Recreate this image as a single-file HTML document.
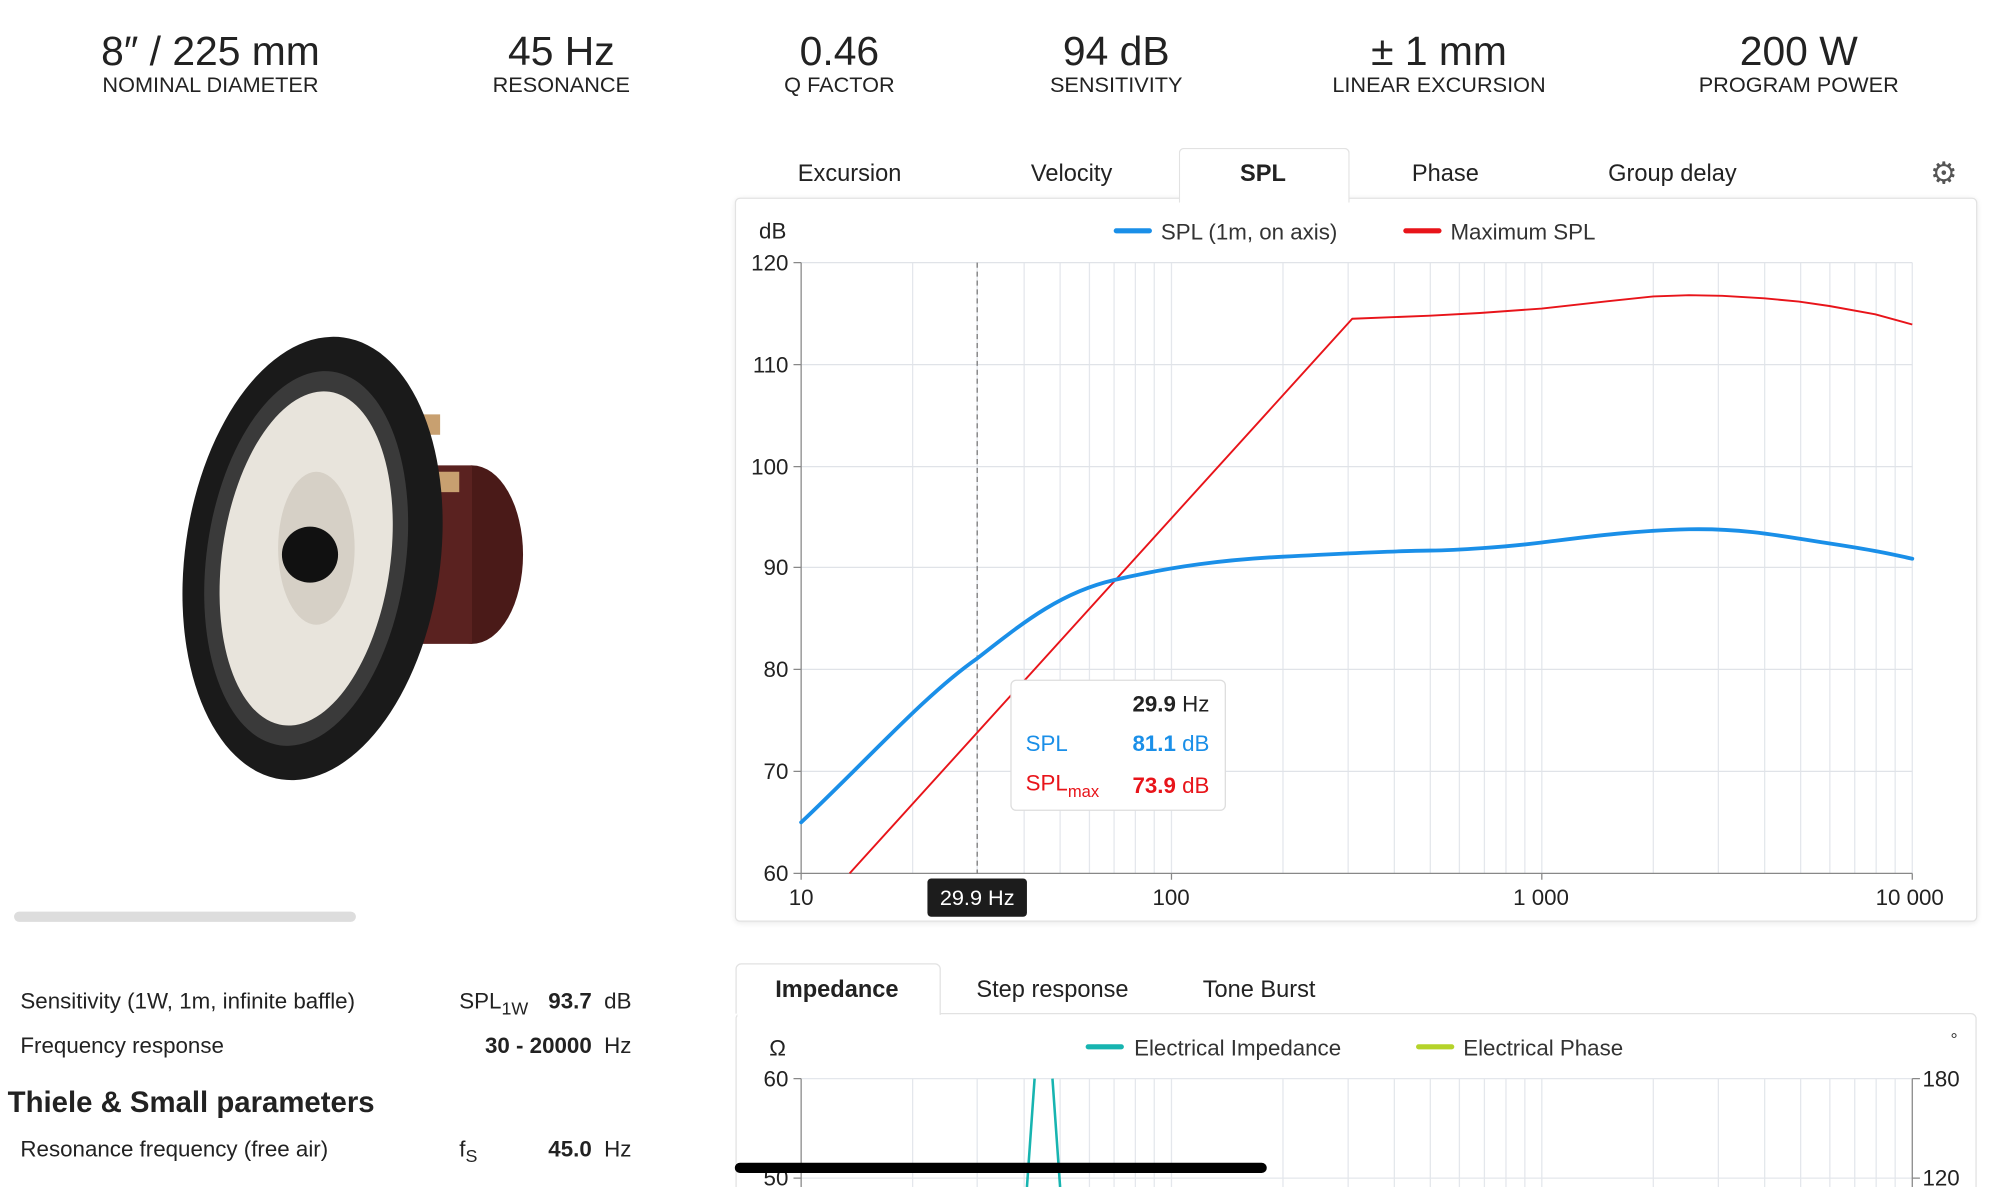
<!DOCTYPE html>
<html><head><meta charset="utf-8"><style>
html,body{margin:0;padding:0;background:#fff;overflow:hidden}
body{width:2000px;height:1187px;position:relative}
#w{position:absolute;left:0;top:0;width:1568px;height:931px;transform:scale(1.2757,1.275);transform-origin:0 0;font-family:"Liberation Sans",sans-serif;color:#222}
.a{position:absolute;white-space:nowrap}
.st{position:absolute;text-align:center;width:300px;margin-left:-150px}
.st b{display:block;font-weight:normal;font-size:32px;line-height:36px;top:22px}
.st span{display:block;font-size:17px;line-height:18px}
.tab{position:absolute;font-size:18.5px;transform:translateX(-50%);white-space:nowrap}
</style></head><body><div id="w">
<div class="st" style="left:165px;top:22px"><b>8″ / 225 mm</b><span>NOMINAL DIAMETER</span></div>
<div class="st" style="left:440px;top:22px"><b>45 Hz</b><span>RESONANCE</span></div>
<div class="st" style="left:658px;top:22px"><b>0.46</b><span>Q FACTOR</span></div>
<div class="st" style="left:875px;top:22px"><b>94 dB</b><span>SENSITIVITY</span></div>
<div class="st" style="left:1128px;top:22px"><b>± 1 mm</b><span>LINEAR EXCURSION</span></div>
<div class="st" style="left:1410px;top:22px"><b>200 W</b><span>PROGRAM POWER</span></div>

<svg class="a" style="left:140px;top:250px" width="290" height="380" viewBox="140 250 290 380">
<ellipse cx="370" cy="435" rx="40" ry="70" fill="#4a1a18"/>
<rect x="320" y="365" width="50" height="140" fill="#5a2220"/>
<rect x="320" y="325" width="25" height="16" fill="#c8a070"/>
<rect x="330" y="370" width="30" height="16" fill="#c8a070"/>
<ellipse cx="245" cy="438" rx="100" ry="175" fill="#1a1a1a" transform="rotate(8 245 438)"/>
<ellipse cx="240" cy="438" rx="78" ry="148" fill="#3a3a3a" transform="rotate(8 240 438)"/>
<ellipse cx="240" cy="438" rx="66" ry="132" fill="#e8e4dc" transform="rotate(8 240 438)"/>
<ellipse cx="248" cy="430" rx="30" ry="60" fill="#d6d0c6"/>
<ellipse cx="243" cy="435" rx="22" ry="22" fill="#111"/>
</svg>
<div class="a" style="left:11px;top:715px;width:268px;height:8px;border-radius:4px;background:#ddd"></div>

<div class="a" style="left:16px;top:775px;font-size:17.5px">Sensitivity (1W, 1m, infinite baffle)</div>
<div class="a" style="left:360px;top:775px;font-size:17.5px">SPL<sub style="font-size:14px">1W</sub></div>
<div class="a" style="right:1073px;top:775px;font-size:17.5px"><b>93.7</b>&nbsp; dB</div>
<div class="a" style="left:16px;top:810px;font-size:17.5px">Frequency response</div>
<div class="a" style="right:1073px;top:810px;font-size:17.5px"><b>30 - 20000</b>&nbsp; Hz</div>
<div class="a" style="left:6px;top:851px;font-size:23px;font-weight:bold">Thiele &amp; Small parameters</div>
<div class="a" style="left:16px;top:891px;font-size:17.5px">Resonance frequency (free air)</div>
<div class="a" style="left:360px;top:891px;font-size:17.5px">f<sub style="font-size:14px">S</sub></div>
<div class="a" style="right:1073px;top:891px;font-size:17.5px"><b>45.0</b>&nbsp; Hz</div>

<div class="a" style="left:924px;top:116px;width:132px;height:42px;border:1px solid #e2e2e2;border-bottom:none;border-radius:4px 4px 0 0;background:#fff;z-index:2"></div>
<div class="a" style="left:576px;top:155px;width:972px;height:566px;border:1px solid #e2e2e2;border-radius:4px;box-shadow:0 1px 4px rgba(0,0,0,.08)"></div>
<div class="tab" style="left:666px;top:125px">Excursion</div>
<div class="tab" style="left:840px;top:125px">Velocity</div>
<div class="tab" style="left:990px;top:125px;font-weight:bold;z-index:3">SPL</div>
<div class="tab" style="left:1133px;top:125px">Phase</div>
<div class="tab" style="left:1311px;top:125px">Group delay</div>
<div class="a" style="left:1513px;top:122px;font-size:24px;color:#555">⚙</div>

<svg class="a" style="left:0;top:0" width="1568" height="931" font-family="Liberation Sans, sans-serif">
<g stroke="#e4e7ec" stroke-width="1" fill="none">
<path d="M715.4 206V685M766 206V685M802.8 206V685M831 206V685M854 206V685M873.3 206V685M890 206V685M904.8 206V685M918.3 206V685
M1005.7 206V685M1056.8 206V685M1093 206V685M1121.2 206V685M1144 206V685M1163.6 206V685M1180.5 206V685M1195.3 206V685M1208.6 206V685
M1296 206V685M1347 206V685M1383.3 206V685M1411.5 206V685M1434.4 206V685M1453.9 206V685M1470.7 206V685M1485.6 206V685M1499 206V685"/>
<path d="M628 206H1499M628 286H1499M628 366H1499M628 445H1499M628 525H1499M628 605H1499" stroke="#e0e3e8"/>
</g>
<path d="M628 206V685H1499" stroke="#888" fill="none"/>
<g stroke="#888"><path d="M622 206h6M622 286h6M622 366h6M622 445h6M622 525h6M622 605h6M622 685h6M628 685v5M918.3 685v5M1208.6 685v5M1499 685v5"/></g>
<g font-size="17.5" fill="#222" text-anchor="end">
<text x="618" y="212">120</text><text x="618" y="292">110</text><text x="618" y="372">100</text><text x="618" y="451">90</text><text x="618" y="531">80</text><text x="618" y="611">70</text><text x="618" y="691">60</text>
</g>
<g font-size="17.5" fill="#222" text-anchor="middle">
<text x="628" y="710">10</text><text x="918" y="710">100</text><text x="1208" y="710">1 000</text><text x="1497" y="710">10 000</text>
</g>
<text x="595" y="187" font-size="17.5" fill="#222">dB</text>
<rect x="873" y="179" width="30" height="4" rx="2" fill="#1a8fe8"/>
<text x="910" y="188" font-size="17.5" fill="#333">SPL (1m, on axis)</text>
<rect x="1100" y="179" width="30" height="4" rx="2" fill="#e8141a"/>
<text x="1137" y="188" font-size="17.5" fill="#333">Maximum SPL</text>
<path d="M766 206V685" stroke="#777" stroke-dasharray="4 3"/>
<polyline fill="none" stroke="#e8141a" stroke-width="1.5" stroke-linejoin="round" points="666,685 1060,250 1121,247.6 1160,245.5 1208.6,242 1259.7,236.3 1296,232.5 1324,231.5 1350,232 1383,234 1410,236.5 1434,240 1470,246.5 1499,254.5"/>
<path fill="none" stroke="#1a8fe8" stroke-width="3" stroke-linecap="round" d="M628,645 C680,596 725,545 766,516.4 C800,490 830,465 873,455 C920,444 960,439 1005.7,436.6 S1100,432 1121,431.8 S1180,429 1208.6,425.5 S1280,416 1324,415.1 S1400,421 1434.4,426.3 S1480,434 1499,438.2"/>
<rect x="727" y="689" width="78" height="30" rx="3" fill="#1c1c1c"/>
<text x="766" y="710" font-size="17" fill="#fff" text-anchor="middle">29.9 Hz</text>
<rect x="792.5" y="533.5" width="168" height="102" rx="4" fill="#fff" stroke="#ddd"/>
<text x="948" y="558" font-size="17.5" text-anchor="end" fill="#222"><tspan font-weight="bold">29.9</tspan> Hz</text>
<text x="804" y="589" font-size="17.5" fill="#1a8fe8">SPL</text>
<text x="948" y="589" font-size="17.5" text-anchor="end" fill="#1a8fe8"><tspan font-weight="bold">81.1</tspan> dB</text>
<text x="804" y="620" font-size="17.5" fill="#e8141a">SPL<tspan font-size="13" dy="5">max</tspan></text>
<text x="948" y="622" font-size="17.5" text-anchor="end" fill="#e8141a"><tspan font-weight="bold">73.9</tspan> dB</text>

<path d="M577 931V799a4 4 0 0 1 4-4H1545a4 4 0 0 1 4 4V931" fill="none" stroke="#e2e2e2"/>
<path d="M577 795V760a4 4 0 0 1 4-4H733a4 4 0 0 1 4 4V796" fill="#fff" stroke="#e2e2e2"/>
<rect x="578" y="793" width="158" height="4" fill="#fff"/>
<text x="656" y="782" font-size="18.5" font-weight="bold" text-anchor="middle" fill="#222">Impedance</text>
<text x="825" y="782" font-size="18.5" text-anchor="middle" fill="#222">Step response</text>
<text x="987" y="782" font-size="18.5" text-anchor="middle" fill="#222">Tone Burst</text>
<text x="603" y="828" font-size="17.5" fill="#222">Ω</text>
<rect x="851" y="819" width="30" height="4" rx="2" fill="#17b4b0"/>
<text x="889" y="828" font-size="17.5" fill="#333">Electrical Impedance</text>
<rect x="1110" y="819" width="30" height="4" rx="2" fill="#b5d32a"/>
<text x="1147" y="828" font-size="17.5" fill="#333">Electrical Phase</text>
<text x="1529" y="820" font-size="14" fill="#333">°</text>
<g stroke="#e4e7ec"><path d="M715.4 846V931M766 846V931M802.8 846V931M831 846V931M854 846V931M873.3 846V931M890 846V931M904.8 846V931M918.3 846V931M1005.7 846V931M1056.8 846V931M1093 846V931M1121.2 846V931M1144 846V931M1163.6 846V931M1180.5 846V931M1195.3 846V931M1208.6 846V931M1296 846V931M1347 846V931M1383.3 846V931M1411.5 846V931M1434.4 846V931M1453.9 846V931M1470.7 846V931M1485.6 846V931M628 846H1499M628 924H1499"/></g>
<path d="M628 846V931M1499 846V931M622 846h6M622 924h6M1499 846h6M1499 924h6" stroke="#888"/>
<text x="618" y="852" font-size="17.5" text-anchor="end" fill="#222">60</text>
<text x="618" y="930" font-size="17.5" text-anchor="end" fill="#222">50</text>
<text x="1507" y="852" font-size="17.5" fill="#222">180</text>
<text x="1507" y="930" font-size="17.5" fill="#222">120</text>
<path d="M811 846L805 931M825 846L831 931" stroke="#17b4b0" stroke-width="2" fill="none"/>
<rect x="576" y="912" width="417" height="8" rx="4" fill="#000"/>
</svg>
</div></body></html>
